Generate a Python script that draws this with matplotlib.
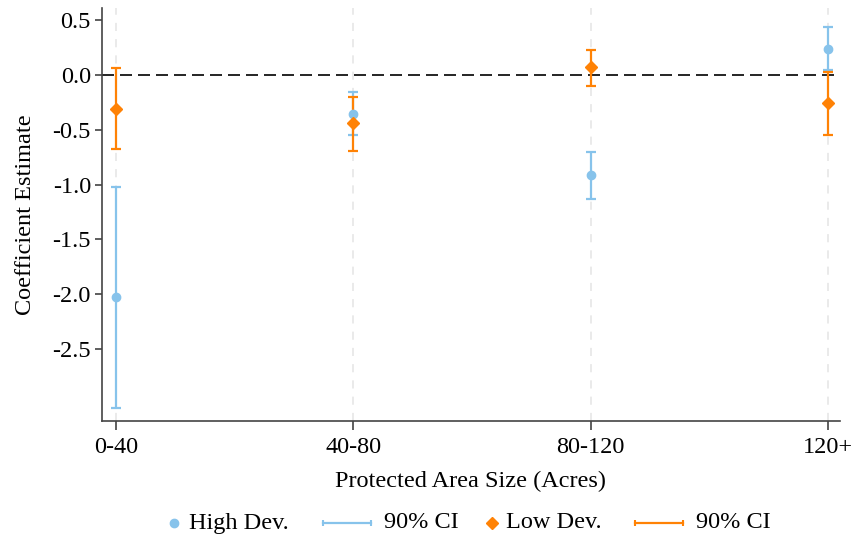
import matplotlib
matplotlib.use("Agg")
import matplotlib.pyplot as plt
from matplotlib.lines import Line2D
import numpy as np

plt.rcParams['font.family'] = ['Liberation Serif', 'DejaVu Serif']

categories = ["0-40", "40-80", "80-120", "120+"]

high_est = [-2.03, -0.36, -0.91, 0.24]
high_lo = [-3.04, -0.55, -1.13, 0.04]
high_hi = [-1.02, -0.16, -0.70, 0.44]

low_est = [-0.31, -0.44, 0.07, -0.26]
low_lo = [-0.68, -0.69, -0.10, -0.55]
low_hi = [0.06, -0.20, 0.23, 0.03]

yticks = [0.5, 0.0, -0.5, -1.0, -1.5, -2.0, -2.5]

blue = "#87C3EB"
orange = "#FF8205"
FS = 17.5
W, H = 854, 540

fig = plt.figure(figsize=(W / 100, H / 100), dpi=100)
ax = fig.add_axes([102 / W, 1 - 421 / H, (840 - 102) / W, (421 - 8) / H])

x = np.arange(1, len(categories) + 1)

for xi in x:
    ax.axvline(xi, color="#e8e8e8", lw=1.3, ls=(0, (4.5, 4.5)), zorder=0)
ax.axhline(0, color="black", lw=1.2, ls=(0, (7.2, 3.6)), zorder=1)


def draw_series(est, lo, hi, color, marker, ms):
    est = np.array(est)
    yerr = np.vstack([est - np.array(lo), np.array(hi) - est])
    ax.errorbar(x, est, yerr=yerr, fmt="none", ecolor=color, elinewidth=1.6,
                capsize=3.4, capthick=1.6, zorder=3)
    ax.plot(x, est, ls="none", marker=marker, color=color, ms=ms, zorder=4)


draw_series(high_est, high_lo, high_hi, blue, "o", 6)
draw_series(low_est, low_lo, low_hi, orange, "D", 6)

ax.set_xlim(0.941, 4.05)
ax.set_ylim(-3.157, 0.61)
ax.set_xticks(x)
ax.set_xticklabels(categories)
ax.set_yticks(yticks)
ax.set_yticklabels([f"{v:.1f}" for v in yticks])

for s in ["top", "right"]:
    ax.spines[s].set_visible(False)
for s in ["left", "bottom"]:
    ax.spines[s].set_color("#444444")
    ax.spines[s].set_linewidth(1.2)

ax.tick_params(axis="both", labelsize=FS, direction="out", width=1.1,
               color="#333333")
ax.tick_params(axis="y", length=5, pad=3)
ax.tick_params(axis="x", length=6.5, pad=5)
ax.set_xlabel("Protected Area Size (Acres)", fontsize=FS, labelpad=9)
ax.set_ylabel("Coefficient Estimate", fontsize=FS, labelpad=12)

# legend row below the axes, laid out in figure pixels
ly = 1 - 523 / H
tf = fig.transFigure


def legend_marker(px, marker, color, ms):
    fig.add_artist(Line2D([px / W], [ly], transform=tf, ls="none",
                          marker=marker, color=color, ms=ms))


def legend_ci(px0, px1, color):
    fig.add_artist(Line2D([px0 / W, px1 / W], [ly, ly], transform=tf,
                          color=color, lw=1.6))
    for p in (px0, px1):
        fig.add_artist(Line2D([p / W], [ly], transform=tf, ls="none",
                              marker="|", color=color, ms=5, mew=1.5))


def legend_text(px, s):
    fig.text(px / W, ly, s, fontsize=FS, va="center", ha="left")


legend_marker(174, "o", blue, 6)
legend_text(189, "High Dev.")
legend_ci(323, 371, blue)
legend_text(384, "90% CI")
legend_marker(492, "D", orange, 6)
legend_text(506, "Low Dev.")
legend_ci(635, 683, orange)
legend_text(696, "90% CI")

fig.savefig("out.png", dpi=100)
